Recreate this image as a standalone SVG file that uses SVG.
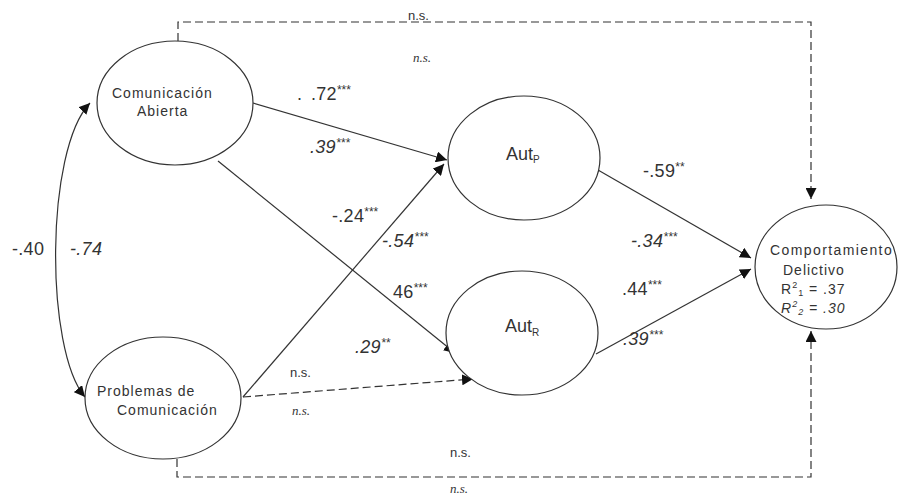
<svg xmlns="http://www.w3.org/2000/svg" width="898" height="500" viewBox="0 0 898 500">
<style>
.node{fill:#fff;stroke:#333;stroke-width:1.2}
.ln{fill:none;stroke:#333;stroke-width:1.2}
.dash{stroke-dasharray:8 4}
text{font-family:"Liberation Sans",Arial,sans-serif;fill:#333}
.nt{font-size:14px;letter-spacing:1px}
.wide{letter-spacing:1.4px}
.lb{font-size:18px;letter-spacing:0.3px}
.ns{font-size:13px}
.nsi{font-family:"Liberation Serif","Times New Roman",serif;font-style:italic;font-size:13px}
.it{font-style:italic}
.st{font-size:12px;letter-spacing:0}
</style>
<defs>
<marker id="ah" viewBox="0 0 10 10" refX="10" refY="5" markerWidth="11" markerHeight="11" markerUnits="userSpaceOnUse" orient="auto-start-reverse">
<path d="M0,0 L10,5 L0,10 Z" fill="#111"/>
</marker>
</defs>
<rect width="898" height="500" fill="#fff"/>
<g id="connectors">
<path class="ln dash" d="M178,41 V22 H811 V199" marker-end="url(#ah)"/>
<path class="ln dash" d="M177,459 V477 H811 V331" marker-end="url(#ah)"/>
<path class="ln" d="M90,103 C45,150 45,350 85,397" marker-start="url(#ah)" marker-end="url(#ah)"/>
<path class="ln" d="M253,103 L447,160" marker-end="url(#ah)"/>
<path class="ln" d="M218,161 L455,353" marker-end="url(#ah)"/>
<path class="ln" d="M243,397 L444,164" marker-end="url(#ah)"/>
<path class="ln dash" d="M243,397 L473,379" marker-end="url(#ah)"/>
<path class="ln" d="M598,170 L751,258" marker-end="url(#ah)"/>
<path class="ln" d="M596,354 L751,269" marker-end="url(#ah)"/>
</g>
<g id="ca">
<ellipse class="node" cx="175" cy="103" rx="78" ry="62"/>
<text class="nt" x="112" y="98">Comunicación</text>
<text class="nt" x="137" y="116">Abierta</text>
</g>
<g id="pc">
<ellipse class="node" cx="163" cy="398" rx="78" ry="61"/>
<text class="nt" x="97" y="396">Problemas de</text>
<text class="nt" x="117" y="415">Comunicación</text>
</g>
<g id="autp">
<ellipse class="node" cx="524" cy="158" rx="76" ry="62"/>
<text x="506" y="160" font-size="18">Aut<tspan font-size="10" dy="3">P</tspan></text>
</g>
<g id="autr">
<ellipse class="node" cx="522" cy="333" rx="76" ry="62"/>
<text x="505" y="332" font-size="18">Aut<tspan font-size="10" dy="4">R</tspan></text>
</g>
<g id="cd">
<ellipse class="node" cx="826" cy="267" rx="71" ry="62"/>
<text class="nt wide" x="770" y="255">Comportamiento</text>
<text class="nt" x="783" y="275">Delictivo</text>
<text class="nt" x="781" y="294">R<tspan font-size="9" dy="-6">2</tspan><tspan font-size="9" dy="8">1</tspan><tspan dy="-2"> = .37</tspan></text>
<text class="nt it" x="781" y="313">R<tspan font-size="9" dy="-6">2</tspan><tspan font-size="9" dy="8">2</tspan><tspan dy="-2"> = .30</tspan></text>
</g>
<g id="labels">
<text class="ns" x="408" y="20">n.s.</text>
<text class="nsi" x="413" y="62">n.s.</text>
<text class="lb" x="297" y="100">.</text>
<text class="lb" x="311" y="100">.72<tspan class="st" dy="-6">***</tspan></text>
<text class="lb it" x="310" y="153">.39<tspan class="st" dy="-6">***</tspan></text>
<text class="lb" x="332" y="222">-.24<tspan class="st" dy="-6">***</tspan></text>
<text class="lb it" x="382" y="247">-.54<tspan class="st" dy="-6">***</tspan></text>
<text class="lb" x="393" y="298">46<tspan class="st" dy="-6">***</tspan></text>
<text class="lb it" x="355" y="353">.29<tspan class="st" dy="-6">**</tspan></text>
<text class="ns" x="290" y="377">n.s.</text>
<text class="nsi" x="292" y="415">n.s.</text>
<text class="ns" x="450" y="457">n.s.</text>
<text class="nsi" x="450" y="493">n.s.</text>
<text class="lb" x="643" y="177">-.59<tspan class="st" dy="-6">**</tspan></text>
<text class="lb it" x="631" y="247">-.34<tspan class="st" dy="-6">***</tspan></text>
<text class="lb" x="622" y="295">.44<tspan class="st" dy="-6">***</tspan></text>
<text class="lb it" x="623" y="345">.39<tspan class="st" dy="-6">***</tspan></text>
<text class="lb" x="12" y="255">-.40</text>
<text class="lb it" x="70" y="255">-.74</text>
</g>
</svg>
